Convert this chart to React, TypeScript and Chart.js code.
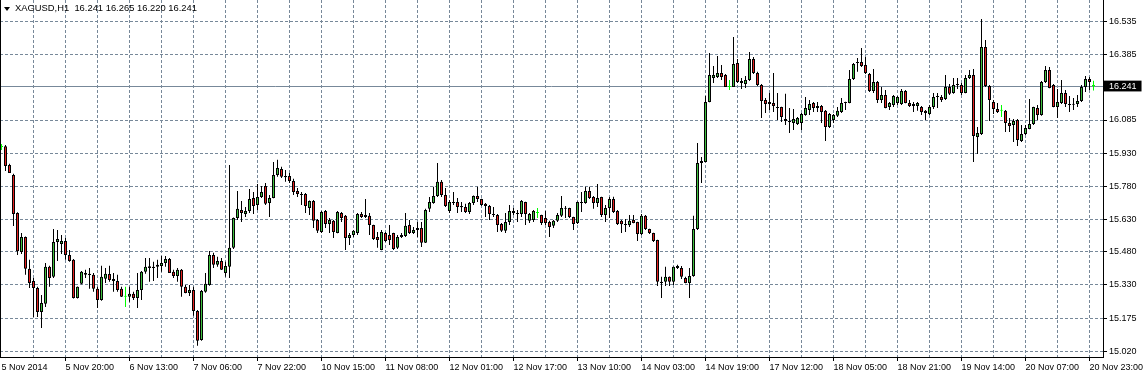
import React, { useEffect, useRef } from "react";
import { Chart, registerables } from "chart.js";

Chart.register(...registerables);

const titleText = "XAGUSD,H1  16.241 16.265 16.220 16.241";

const opens = [
  15.961, 15.965, 15.879, 15.833, 15.658, 15.479, 15.548, 15.402, 15.346, 15.314,
  15.204, 15.241, 15.411, 15.365, 15.525, 15.516, 15.530, 15.465, 15.443, 15.268,
  15.333, 15.383, 15.379, 15.374, 15.310, 15.259, 15.356, 15.378, 15.355, 15.346,
  15.310, 15.273, 15.273, 15.287, 15.268, 15.305, 15.388, 15.406, 15.411, 15.411,
  15.415, 15.429, 15.447, 15.388, 15.369, 15.397, 15.319, 15.291, 15.305, 15.208,
  15.075, 15.296, 15.328, 15.465, 15.420, 15.438, 15.383, 15.411, 15.498, 15.635,
  15.672, 15.654, 15.667, 15.727, 15.695, 15.732, 15.782, 15.704, 15.727, 15.833,
  15.860, 15.828, 15.828, 15.805, 15.759, 15.745, 15.745, 15.681, 15.713, 15.626,
  15.571, 15.667, 15.608, 15.622, 15.566, 15.658, 15.645, 15.543, 15.557, 15.566,
  15.654, 15.649, 15.645, 15.603, 15.548, 15.488, 15.566, 15.557, 15.566, 15.498,
  15.548, 15.553, 15.603, 15.566, 15.580, 15.589, 15.521, 15.677, 15.704, 15.736,
  15.801, 15.741, 15.667, 15.709, 15.709, 15.690, 15.686, 15.663, 15.704, 15.736,
  15.722, 15.700, 15.690, 15.654, 15.649, 15.608, 15.576, 15.617, 15.667, 15.654,
  15.654, 15.709, 15.622, 15.626, 15.658, 15.649, 15.635, 15.617, 15.599, 15.622,
  15.645, 15.677, 15.681, 15.640, 15.612, 15.704, 15.704, 15.759, 15.732, 15.704,
  15.732, 15.649, 15.681, 15.722, 15.667, 15.622, 15.608, 15.603, 15.626, 15.617,
  15.562, 15.645, 15.585, 15.566, 15.534, 15.342, 15.342, 15.365, 15.342, 15.415,
  15.406, 15.360, 15.337, 15.369, 15.585, 15.888, 15.892, 16.168, 16.278, 16.283,
  16.301, 16.292, 16.237, 16.237, 16.347, 16.264, 16.250, 16.269, 16.365, 16.301,
  16.246, 16.177, 16.159, 16.163, 16.145, 16.145, 16.090, 16.076, 16.071, 16.067,
  16.071, 16.108, 16.131, 16.163, 16.140, 16.149, 16.127, 16.053, 16.085, 16.104,
  16.122, 16.163, 16.163, 16.273, 16.351, 16.351, 16.338, 16.296, 16.218, 16.260,
  16.177, 16.200, 16.145, 16.154, 16.163, 16.159, 16.218, 16.163, 16.149, 16.149,
  16.145, 16.127, 16.113, 16.145, 16.191, 16.191, 16.182, 16.237, 16.209, 16.246,
  16.246, 16.209, 16.278, 16.292, 16.007, 16.021, 16.420, 16.241, 16.168, 16.136,
  16.127, 16.127, 16.071, 16.062, 16.085, 15.989, 16.021, 16.044, 16.067, 16.140,
  16.108, 16.260, 16.315, 16.246, 16.145, 16.163, 16.209, 16.159, 16.159, 16.159,
  16.172, 16.237, 16.273, 16.241,
];

const highs = [
  15.975, 15.970, 15.884, 15.838, 15.661, 15.566, 15.550, 15.443, 15.360, 15.319,
  15.282, 15.429, 15.416, 15.585, 15.580, 15.557, 15.543, 15.488, 15.447, 15.321,
  15.392, 15.397, 15.406, 15.383, 15.319, 15.416, 15.406, 15.416, 15.383, 15.374,
  15.319, 15.319, 15.319, 15.296, 15.383, 15.392, 15.452, 15.452, 15.434, 15.443,
  15.461, 15.461, 15.452, 15.397, 15.406, 15.401, 15.328, 15.328, 15.319, 15.213,
  15.305, 15.383, 15.484, 15.475, 15.457, 15.452, 15.434, 15.879, 15.637, 15.759,
  15.713, 15.686, 15.768, 15.755, 15.791, 15.782, 15.796, 15.741, 15.892, 15.902,
  15.870, 15.856, 15.842, 15.815, 15.773, 15.755, 15.750, 15.715, 15.718, 15.631,
  15.667, 15.672, 15.635, 15.626, 15.667, 15.663, 15.649, 15.566, 15.580, 15.658,
  15.663, 15.722, 15.658, 15.604, 15.571, 15.580, 15.571, 15.603, 15.567, 15.557,
  15.566, 15.658, 15.626, 15.594, 15.617, 15.617, 15.677, 15.732, 15.778, 15.888,
  15.810, 15.773, 15.718, 15.755, 15.727, 15.709, 15.700, 15.709, 15.738, 15.778,
  15.723, 15.704, 15.695, 15.686, 15.654, 15.612, 15.658, 15.695, 15.681, 15.672,
  15.718, 15.710, 15.658, 15.672, 15.681, 15.650, 15.667, 15.622, 15.626, 15.658,
  15.736, 15.690, 15.682, 15.641, 15.711, 15.755, 15.778, 15.778, 15.736, 15.791,
  15.733, 15.695, 15.732, 15.733, 15.672, 15.626, 15.631, 15.649, 15.649, 15.618,
  15.654, 15.649, 15.586, 15.567, 15.535, 15.365, 15.411, 15.366, 15.412, 15.420,
  15.415, 15.365, 15.406, 15.645, 15.980, 15.915, 16.195, 16.393, 16.333, 16.379,
  16.338, 16.296, 16.269, 16.466, 16.365, 16.278, 16.287, 16.397, 16.374, 16.306,
  16.250, 16.186, 16.209, 16.301, 16.209, 16.146, 16.205, 16.140, 16.136, 16.099,
  16.117, 16.191, 16.177, 16.168, 16.168, 16.154, 16.131, 16.117, 16.113, 16.145,
  16.186, 16.169, 16.315, 16.347, 16.370, 16.416, 16.374, 16.301, 16.319, 16.264,
  16.237, 16.223, 16.168, 16.200, 16.195, 16.227, 16.223, 16.177, 16.168, 16.168,
  16.149, 16.131, 16.154, 16.209, 16.209, 16.200, 16.292, 16.250, 16.278, 16.278,
  16.255, 16.292, 16.315, 16.319, 16.053, 16.549, 16.452, 16.246, 16.177, 16.163,
  16.154, 16.131, 16.094, 16.090, 16.090, 16.062, 16.062, 16.182, 16.146, 16.154,
  16.264, 16.333, 16.328, 16.250, 16.227, 16.269, 16.223, 16.195, 16.186, 16.200,
  16.246, 16.287, 16.282, 16.265,
];

const lows = [
  15.947, 15.851, 15.842, 15.598, 15.465, 15.470, 15.374, 15.314, 15.181, 15.181,
  15.130, 15.227, 15.319, 15.360, 15.438, 15.470, 15.443, 15.434, 15.266, 15.265,
  15.331, 15.360, 15.310, 15.296, 15.222, 15.255, 15.337, 15.342, 15.296, 15.296,
  15.272, 15.227, 15.250, 15.259, 15.222, 15.259, 15.379, 15.342, 15.346, 15.360,
  15.388, 15.411, 15.382, 15.360, 15.342, 15.273, 15.290, 15.277, 15.186, 15.048,
  15.071, 15.292, 15.324, 15.406, 15.411, 15.396, 15.365, 15.360, 15.493, 15.626,
  15.617, 15.640, 15.658, 15.654, 15.672, 15.727, 15.695, 15.640, 15.726, 15.824,
  15.819, 15.801, 15.796, 15.741, 15.732, 15.695, 15.658, 15.649, 15.589, 15.566,
  15.566, 15.589, 15.566, 15.543, 15.565, 15.617, 15.488, 15.511, 15.548, 15.557,
  15.635, 15.635, 15.557, 15.534, 15.498, 15.487, 15.525, 15.511, 15.488, 15.493,
  15.543, 15.548, 15.562, 15.562, 15.548, 15.502, 15.520, 15.663, 15.700, 15.732,
  15.732, 15.686, 15.658, 15.695, 15.658, 15.663, 15.658, 15.654, 15.695, 15.709,
  15.690, 15.640, 15.626, 15.640, 15.571, 15.571, 15.566, 15.603, 15.649, 15.617,
  15.640, 15.603, 15.612, 15.617, 15.635, 15.603, 15.603, 15.548, 15.589, 15.617,
  15.640, 15.635, 15.635, 15.580, 15.608, 15.663, 15.700, 15.722, 15.677, 15.686,
  15.640, 15.617, 15.635, 15.658, 15.603, 15.566, 15.571, 15.594, 15.611, 15.530,
  15.557, 15.580, 15.562, 15.525, 15.323, 15.268, 15.323, 15.323, 15.328, 15.401,
  15.355, 15.336, 15.268, 15.365, 15.580, 15.796, 15.891, 16.167, 16.255, 16.278,
  16.269, 16.236, 16.223, 16.236, 16.255, 16.227, 16.232, 16.264, 16.296, 16.241,
  16.094, 16.117, 16.131, 16.122, 16.085, 16.076, 16.062, 16.025, 16.039, 16.062,
  16.039, 16.104, 16.108, 16.122, 16.122, 16.071, 15.989, 16.048, 16.071, 16.099,
  16.117, 16.131, 16.162, 16.269, 16.306, 16.328, 16.296, 16.214, 16.209, 16.163,
  16.163, 16.139, 16.131, 16.145, 16.154, 16.154, 16.162, 16.145, 16.122, 16.127,
  16.108, 16.085, 16.108, 16.136, 16.140, 16.168, 16.177, 16.200, 16.205, 16.227,
  16.200, 16.208, 16.273, 15.892, 15.929, 16.016, 16.237, 16.081, 16.113, 16.117,
  16.099, 16.030, 16.030, 15.984, 15.966, 15.984, 16.016, 16.043, 16.062, 16.085,
  16.104, 16.255, 16.231, 16.144, 16.094, 16.159, 16.145, 16.122, 16.131, 16.145,
  16.168, 16.214, 16.223, 16.220,
];

const closes = [
  15.961, 15.874, 15.842, 15.654, 15.483, 15.548, 15.402, 15.337, 15.314, 15.204,
  15.245, 15.411, 15.360, 15.525, 15.539, 15.530, 15.465, 15.438, 15.268, 15.319,
  15.388, 15.374, 15.373, 15.310, 15.259, 15.365, 15.379, 15.351, 15.346, 15.305,
  15.273, 15.273, 15.287, 15.268, 15.305, 15.388, 15.411, 15.413, 15.406, 15.420,
  15.429, 15.447, 15.383, 15.369, 15.397, 15.319, 15.291, 15.305, 15.208, 15.071,
  15.300, 15.333, 15.465, 15.420, 15.438, 15.397, 15.415, 15.498, 15.635, 15.677,
  15.658, 15.667, 15.722, 15.690, 15.732, 15.755, 15.700, 15.727, 15.833, 15.865,
  15.824, 15.822, 15.805, 15.755, 15.745, 15.741, 15.690, 15.713, 15.622, 15.576,
  15.663, 15.608, 15.626, 15.571, 15.663, 15.635, 15.543, 15.557, 15.576, 15.654,
  15.640, 15.640, 15.603, 15.539, 15.534, 15.571, 15.530, 15.534, 15.493, 15.548,
  15.557, 15.599, 15.566, 15.580, 15.589, 15.521, 15.672, 15.709, 15.736, 15.801,
  15.741, 15.690, 15.709, 15.704, 15.686, 15.684, 15.663, 15.704, 15.736, 15.722,
  15.695, 15.690, 15.654, 15.649, 15.603, 15.576, 15.617, 15.667, 15.658, 15.658,
  15.713, 15.654, 15.654, 15.667, 15.658, 15.612, 15.612, 15.594, 15.622, 15.649,
  15.681, 15.681, 15.640, 15.608, 15.709, 15.709, 15.759, 15.727, 15.704, 15.727,
  15.649, 15.681, 15.722, 15.663, 15.608, 15.606, 15.603, 15.622, 15.612, 15.562,
  15.645, 15.585, 15.566, 15.530, 15.342, 15.337, 15.365, 15.342, 15.411, 15.406,
  15.365, 15.337, 15.369, 15.585, 15.888, 15.897, 16.168, 16.292, 16.292, 16.301,
  16.283, 16.237, 16.237, 16.342, 16.260, 16.255, 16.269, 16.365, 16.301, 16.246,
  16.172, 16.159, 16.168, 16.149, 16.140, 16.099, 16.081, 16.081, 16.090, 16.094,
  16.113, 16.140, 16.159, 16.140, 16.149, 16.122, 16.053, 16.113, 16.108, 16.127,
  16.163, 16.168, 16.273, 16.342, 16.347, 16.333, 16.301, 16.218, 16.260, 16.177,
  16.200, 16.140, 16.163, 16.195, 16.191, 16.218, 16.163, 16.149, 16.159, 16.163,
  16.122, 16.117, 16.145, 16.191, 16.195, 16.177, 16.237, 16.205, 16.246, 16.250,
  16.209, 16.278, 16.292, 16.012, 16.025, 16.420, 16.241, 16.177, 16.136, 16.122,
  16.127, 16.071, 16.058, 16.081, 15.993, 16.021, 16.048, 16.067, 16.145, 16.108,
  16.260, 16.315, 16.232, 16.145, 16.168, 16.209, 16.159, 16.154, 16.155, 16.172,
  16.237, 16.273, 16.259, 16.241,
];

// one label every 16 hourly bars, starting at bar 0
const timeLabels = [
  "5 Nov 2014", "5 Nov 20:00", "6 Nov 13:00", "7 Nov 06:00", "7 Nov 22:00",
  "10 Nov 15:00", "11 Nov 08:00", "12 Nov 01:00", "12 Nov 17:00", "13 Nov 10:00",
  "14 Nov 03:00", "14 Nov 19:00", "17 Nov 12:00", "18 Nov 05:00", "18 Nov 21:00",
  "19 Nov 14:00", "20 Nov 07:00", "20 Nov 23:00",
];
const barsPerLabel = 16;
const barsPerGrid = 8;

const priceTicks = [15.02, 15.175, 15.33, 15.48, 15.63, 15.78, 15.93, 16.085, 16.385, 16.535];

const UP = "#3ec03e";
const DOWN = "#e3201f";
const DOJI = "#00ff00";
const GRID = "#778899";
const FONT = { family: "'Liberation Sans', Arial, sans-serif", size: 9 };

export default function App() {
  const ref = useRef<HTMLCanvasElement | null>(null);

  useEffect(() => {
    document.body.style.margin = "0";
    const canvas = ref.current;
    if (!canvas) return;
    const n = closes.length;
    const lastPrice = closes[n - 1];
    const idx = closes.map((_, i) => i);
    const kind = idx.map((i) => (closes[i] > opens[i] ? "up" : closes[i] < opens[i] ? "down" : "doji"));
    const bodyData = idx.map((i) => ({ x: i, y: [Math.min(opens[i], closes[i]), Math.max(opens[i], closes[i])] }));
    const wickData = idx.map((i) => ({ x: i, y: [lows[i], highs[i]] }));
    const isLast = (c: any) => c && c.tick && Math.abs(c.tick.value - lastPrice) < 1e-9;

    const framePlugin = {
      id: "mt4frame",
      beforeDraw(chart: any) {
        const ctx = chart.ctx;
        ctx.save();
        ctx.fillStyle = "#ffffff";
        ctx.fillRect(0, 0, chart.width, chart.height);
        ctx.restore();
      },
      beforeDatasetsDraw(chart: any) {
        const ctx = chart.ctx;
        const a = chart.chartArea;
        const y = Math.round(chart.scales.y.getPixelForValue(lastPrice)) + 0.5;
        ctx.save();
        ctx.strokeStyle = GRID;
        ctx.lineWidth = 1;
        ctx.beginPath();
        ctx.moveTo(a.left, y);
        ctx.lineTo(a.right, y);
        ctx.stroke();
        ctx.restore();
      },
      afterDraw(chart: any) {
        const ctx = chart.ctx;
        ctx.save();
        ctx.fillStyle = "#000";
        ctx.fillRect(0, 0, 1, chart.chartArea.bottom + 1);
        ctx.restore();
      },
    };

    const chart = new Chart(canvas, {
      type: "bar",
      data: {
        datasets: [
          {
            data: bodyData as any,
            barThickness: 3,
            backgroundColor: kind.map((k) => (k === "up" ? UP : k === "down" ? DOWN : DOJI)),
            borderColor: kind.map((k) => (k === "doji" ? DOJI : "#000")),
            borderWidth: 1,
            borderSkipped: false,
            minBarLength: 1,
            grouped: false,
            inflateAmount: 0,
          } as any,
          {
            data: wickData as any,
            barThickness: 1,
            backgroundColor: kind.map((k) => (k === "doji" ? DOJI : "#000")),
            borderWidth: 0,
            grouped: false,
            inflateAmount: 0,
          } as any,
        ],
      },
      options: {
        animation: false,
        responsive: false,
        maintainAspectRatio: false,
        devicePixelRatio: 1,
        events: [],
        layout: { padding: 0 },
        plugins: { legend: { display: false }, tooltip: { enabled: false }, title: { display: false } },
        scales: {
          x: {
            type: "linear",
            offset: false,
            min: -0.375,
            max: 275.375,
            afterBuildTicks: (s: any) => {
              const t = [];
              for (let v = 0; v < n; v += barsPerGrid) t.push({ value: v });
              s.ticks = t;
            },
            afterFit: (s: any) => {
              s.height = 19;
              s.paddingLeft = 0;
              s.paddingRight = 0;
            },
            ticks: {
              autoSkip: false,
              maxRotation: 0,
              minRotation: 0,
              align: "start",
              padding: 1,
              color: "#000",
              font: FONT,
              callback: (v: any) => (Number(v) % barsPerLabel === 0 ? timeLabels[Number(v) / barsPerLabel] ?? "" : ""),
            },
            grid: {
              offset: false,
              color: (c: any) => (c.tick && c.tick.value === 0 ? "rgba(0,0,0,0)" : GRID),
              lineWidth: 1,
              tickLength: 4,
              tickColor: (c: any) =>
                c.tick && c.tick.value > 0 && c.tick.value % barsPerLabel === 0 ? "#000" : "rgba(0,0,0,0)",
            },
            border: { display: true, color: "#000", width: 1, dash: [3, 2] },
          } as any,
          y: {
            type: "linear",
            position: "right",
            min: 14.9969,
            max: 16.636,
            afterBuildTicks: (s: any) => {
              s.ticks = [...priceTicks, lastPrice].sort((a, b) => a - b).map((v) => ({ value: v }));
            },
            afterFit: (s: any) => {
              s.width = 43;
              s.paddingTop = 0;
              s.paddingBottom = 0;
              s.paddingLeft = 0;
              s.paddingRight = 0;
            },
            ticks: {
              autoSkip: false,
              padding: 2,
              font: FONT,
              color: (c: any) => (isLast(c) ? "#fff" : "#000"),
              showLabelBackdrop: (c: any) => isLast(c),
              backdropColor: "#000",
              backdropPadding: { top: 0, bottom: 0, left: 5, right: 5 },
              callback: (v: any) => Number(v).toFixed(3),
            },
            grid: {
              color: (c: any) => (isLast(c) ? "rgba(0,0,0,0)" : GRID),
              lineWidth: 1,
              tickLength: 4,
              tickColor: "#000",
            },
            border: { display: true, color: "#000", width: 1, dash: [3, 2] },
          } as any,
        },
      },
      plugins: [framePlugin],
    });
    return () => chart.destroy();
  }, []);

  return (
    <div style={{ position: "relative", width: 1146, height: 376, background: "#fff", overflow: "hidden" }}>
      <canvas ref={ref} width={1146} height={376} style={{ display: "block", width: 1146, height: 376 }} />
      <div
        style={{
          position: "absolute",
          left: 4,
          top: 7,
          width: 0,
          height: 0,
          borderLeft: "3px solid transparent",
          borderRight: "3px solid transparent",
          borderTop: "4px solid #000",
        }}
      />
      <div
        style={{
          position: "absolute",
          left: 15,
          top: 2,
          fontFamily: "'Liberation Sans', Arial, sans-serif",
          fontSize: 9.4,
          lineHeight: "11px",
          color: "#000",
          whiteSpace: "pre",
        }}
      >
        {titleText}
      </div>
    </div>
  );
}
